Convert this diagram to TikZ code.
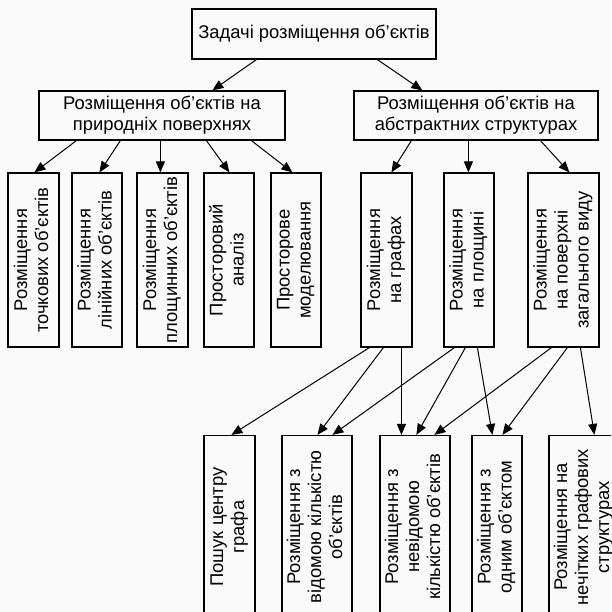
\documentclass[tikz,border=0pt]{standalone}
\usepackage{fontspec}
\setmainfont{Liberation Sans}
\usetikzlibrary{arrows.meta}
\definecolor{bgc}{RGB}{250,250,250}
\newcommand\rottxt[1]{\rotatebox{90}{\begin{tabular}{@{}c@{}}#1\end{tabular}}}
\begin{document}
\begin{tikzpicture}[x=1pt,y=-1pt,
  box/.style={draw, line width=1.2pt, rectangle, inner sep=0pt, align=center,
    font=\fontsize{18.4}{21}\selectfont},
  arr/.style={line width=1pt, -{Triangle[length=11pt,width=9pt]}}]
\useasboundingbox (0,0) rectangle (611,612);
\fill[bgc] (0,0) rectangle (611,612);
\clip (0,0) rectangle (611,612);

% top levels
\node[box, minimum width=244pt, minimum height=50pt] (T) at (314,34) {Задачі розміщення об’єктів};
\node[box, minimum width=246pt, minimum height=49pt] (L) at (162,115.5) {Розміщення об’єктів на\\природніх поверхнях};
\node[box, minimum width=244pt, minimum height=49pt] (R) at (476,115.5) {Розміщення об’єктів на\\абстрактних структурах};

% second level left
\node[box, minimum width=51pt, minimum height=174pt] (L1) at (33.5,260) {\rottxt{Розміщення\\точкових об’єктів}};
\node[box, minimum width=50pt, minimum height=174pt] (L2) at (97,260) {\rottxt{Розміщення\\лінійних об’єктів}};
\node[box, minimum width=51pt, minimum height=174pt] (L3) at (162.5,260) {\rottxt{Розміщення\\площинних об’єктів}};
\node[box, minimum width=50pt, minimum height=174pt] (L4) at (229,260) {\rottxt{Просторовий\\аналіз}};
\node[box, minimum width=50pt, minimum height=174pt] (L5) at (296,260) {\rottxt{Просторове\\моделювання}};

% second level right
\node[box, minimum width=51pt, minimum height=174pt] (G) at (386.5,260) {\rottxt{Розміщення\\на графах}};
\node[box, minimum width=50pt, minimum height=174pt] (P) at (469,260) {\rottxt{Розміщення\\на площині}};
\node[box, minimum width=71pt, minimum height=174pt] (S) at (563.5,260) {\rottxt{Розміщення\\на поверхні\\загального виду}};

% third level
\node[box, minimum width=51pt, minimum height=183pt] (A) at (229.5,527) {\rottxt{Пошук центру\\графа}};
\node[box, minimum width=70pt, minimum height=183pt] (B) at (317,527) {\rottxt{Розміщення з\\відомою кількістю\\об’єктів}};
\node[box, minimum width=70pt, minimum height=183pt] (C) at (415,527) {\rottxt{Розміщення з\\невідомою\\кількістю об’єктів}};
\node[box, minimum width=50pt, minimum height=183pt] (D) at (497,527) {\rottxt{Розміщення з\\одним об’єктом}};
\node[box, minimum width=70pt, minimum height=183pt] (E) at (584,527) {\rottxt{Розміщення на\\нечітких графових\\структурах}};

% connectors
\draw[arr] ([xshift=65pt]T.south west) -- ([xshift=174pt]L.north west);
\draw[arr] ([xshift=186pt]T.south west) -- ([xshift=69pt]R.north west);

\draw[arr] ([xshift=38pt]L.south west) -- ([xshift=27pt]L1.north west);
\draw[arr] ([xshift=82pt]L.south west) -- ([xshift=28pt]L2.north west);
\draw[arr] ([xshift=122pt]L.south west) -- ([xshift=24pt]L3.north west);
\draw[arr] ([xshift=168pt]L.south west) -- ([xshift=26pt]L4.north west);
\draw[arr] ([xshift=213pt]L.south west) -- ([xshift=22pt]L5.north west);

\draw[arr] ([xshift=58pt]R.south west) -- ([xshift=31pt]G.north west);
\draw[arr] ([xshift=115pt]R.south west) -- ([xshift=25pt]P.north west);
\draw[arr] ([xshift=187pt]R.south west) -- ([xshift=42pt]S.north west);

\draw[arr] ([xshift=9pt]G.south west) -- ([xshift=28pt]A.north west);
\draw[arr] ([xshift=23pt]G.south west) -- ([xshift=36pt]B.north west);
\draw[arr] ([xshift=41pt]G.south west) -- ([xshift=22pt]C.north west);
\draw[arr] ([xshift=11pt]P.south west) -- ([xshift=51pt]B.north west);
\draw[arr] ([xshift=22pt]P.south west) -- ([xshift=37pt]C.north west);
\draw[arr] ([xshift=34pt]P.south west) -- ([xshift=21pt]D.north west);
\draw[arr] ([xshift=24pt]S.south west) -- ([xshift=55pt]C.north west);
\draw[arr] ([xshift=40pt]S.south west) -- ([xshift=31pt]D.north west);
\draw[arr] ([xshift=53pt]S.south west) -- ([xshift=46pt]E.north west);
\end{tikzpicture}
\end{document}
